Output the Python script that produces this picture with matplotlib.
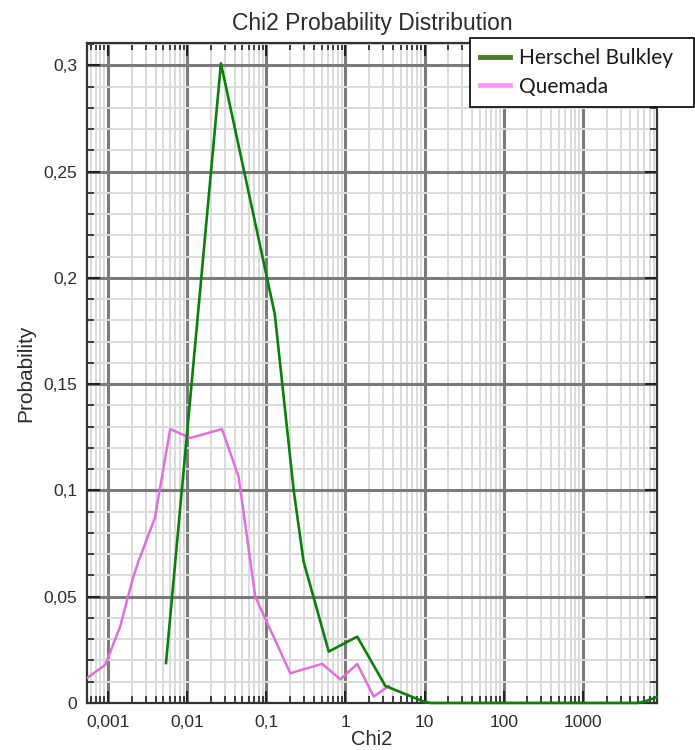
import matplotlib
matplotlib.use('Agg')
import matplotlib.pyplot as plt
from matplotlib.lines import Line2D
from matplotlib.ticker import LogLocator, MultipleLocator, FuncFormatter, NullFormatter

# values
hb_chi2 = [0.0054, 0.0267, 0.128, 0.222, 0.296, 0.615, 1.41, 3.2, 10.0, 12.0,
           100.0, 1000.0, 5000.0, 6200.0, 8500.0]
hb_prob = [0.0188, 0.301, 0.183, 0.100, 0.0666, 0.0242, 0.0312, 0.008, 0.0005, 0.0,
           0.0, 0.0, 0.0, 0.0008, 0.0027]

qm_chi2 = [0.0005, 0.00092, 0.00142, 0.00209, 0.00242, 0.0039, 0.0061, 0.0109,
           0.0275, 0.0446, 0.0726, 0.201, 0.508, 0.865, 1.41, 2.28, 3.53]
qm_prob = [0.0108, 0.0179, 0.0359, 0.0595, 0.0666, 0.087, 0.1289, 0.1247,
           0.1289, 0.1066, 0.050, 0.014, 0.0184, 0.0111, 0.0184, 0.003, 0.008]

series_names = ['Herschel Bulkley', 'Quemada']

x_ticks = [0.001, 0.01, 0.1, 1, 10, 100, 1000]
x_labels = ['0,001', '0,01', '0,1', '1', '10', '100', '1000']

txt = '#2b2b2b'
plt.rcParams['font.family'] = ['Liberation Sans', 'DejaVu Sans']

fig = plt.figure(figsize=(6.95, 7.5), dpi=100)
ax = fig.add_axes([0.1252, 0.0627, 0.82, 0.88])

ax.plot(hb_chi2, hb_prob, color='#0a800a', lw=1.9, zorder=5, clip_on=False)
ax.plot(qm_chi2, qm_prob, color='#df6fdf', lw=1.8, zorder=4)

ax.set_xscale('log')
ax.set_xlim(0.000542, 8650)
ax.set_ylim(0, 0.3106)

ax.set_xticks(x_ticks)
ax.set_xticklabels(x_labels)
ax.xaxis.set_minor_locator(LogLocator(base=10, subs=range(2, 10), numticks=20))
ax.xaxis.set_minor_formatter(NullFormatter())
ax.yaxis.set_major_locator(MultipleLocator(0.05))
ax.yaxis.set_minor_locator(MultipleLocator(0.01))
ax.yaxis.set_major_formatter(FuncFormatter(
    lambda v, p: '0' if abs(v) < 1e-9 else ('%g' % round(v, 3)).replace('.', ',')))

ax.grid(which='minor', color='#dadada', lw=1.4, zorder=0)
ax.grid(which='major', color='#7a7a7a', lw=2.2, zorder=1)
ax.set_axisbelow(True)

ax.tick_params(which='major', direction='in', length=9, width=1.5, color='#222222',
               top=True, right=True, labelsize=12.5, labelcolor=txt, pad=9)
ax.tick_params(which='minor', direction='in', length=5, width=1.2, color='#222222',
               top=True, right=True)
ax.tick_params(axis='y', which='major', pad=7)
for s in ax.spines.values():
    s.set_color('#333333')
    s.set_linewidth(1.6)

ax.set_title('Chi2 Probability Distribution', fontsize=16.5, color=txt, pad=9)
ax.set_xlabel('Chi2', fontsize=14.5, color=txt, labelpad=0)
ax.set_ylabel('Probability', fontsize=15, color=txt, labelpad=6)

handles = [Line2D([], [], color='#4a7d2c', lw=3.5),
           Line2D([], [], color='#ff99ff', lw=3.5)]
leg = fig.legend(handles, series_names, loc='upper left',
                 bbox_to_anchor=(470 / 695, 1 - 108 / 750, 224 / 695, 70 / 750),
                 mode='expand', frameon=True, fancybox=False,
                 handlelength=1.4, handletextpad=0.45, borderaxespad=0,
                 borderpad=0.5, labelspacing=0.4, prop={'family': 'Lato', 'size': 15})
leg.get_frame().set_edgecolor('#000000')
leg.get_frame().set_linewidth(1.2)
leg.get_frame().set_alpha(1)
for t in leg.get_texts():
    t.set_color('#1a1a1a')

fig.savefig('out.png', dpi=100)
